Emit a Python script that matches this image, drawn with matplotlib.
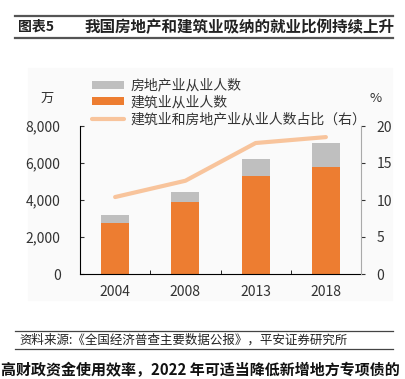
import matplotlib
matplotlib.use('Agg')
import matplotlib.pyplot as plt
import numpy as np

plt.rcParams['font.family'] = ['Noto Sans CJK SC', 'DejaVu Sans']

years = ['2004', '2008', '2013', '2018']
jianzhu = [2750, 3900, 5300, 5800]        # 建筑业从业人数, 万
fangdichan = [450, 550, 900, 1300]        # 房地产业从业人数, 万
zhanbi = [10.4, 12.6, 17.7, 18.5]         # 占比, %

GRAY = '#bfbfbf'
ORANGE = '#ed7d31'
PEACH = '#f8c49c'
TXT = '#333333'

fig = plt.figure(figsize=(4.05, 3.79), dpi=100)

# faint panel background behind the chart
fig.patches.append(plt.Rectangle((28/405, 1-300/379), (392-28)/405, (300-68)/379,
                                 transform=fig.transFigure, color='#fafafa', zorder=-5))

ax = fig.add_axes([80/405, 1-274/379, 281/405, 148/379])
ax.patch.set_alpha(0)
x = np.arange(len(years))
b1 = ax.bar(x, jianzhu, width=0.4, color=ORANGE, zorder=2, label='建筑业从业人数')
b2 = ax.bar(x, fangdichan, width=0.4, bottom=jianzhu, color=GRAY, zorder=2, label='房地产业从业人数')
ax.set_xlim(-0.5, 3.5)
ax.set_ylim(0, 8000)
ax.set_yticks([0, 2000, 4000, 6000, 8000])
ax.set_yticklabels(['{:,}'.format(v) for v in [0, 2000, 4000, 6000, 8000]])
ax.set_xticks(x)
ax.set_xticklabels(years)
ax.set_xticks([0.5, 1.5, 2.5], minor=True)
ax.tick_params(axis='x', which='major', length=0, pad=8, labelsize=10, colors=TXT)
ax.tick_params(axis='x', which='minor', length=3, direction='in', color='black')
ax.tick_params(axis='y', length=3, direction='in', labelsize=10, colors=TXT, pad=14)
for s in ['top', 'right']:
    ax.spines[s].set_visible(False)
ax.spines['left'].set_color('black')
ax.spines['bottom'].set_color('black')

ax2 = ax.twinx()
l1, = ax2.plot(x, zhanbi, color=PEACH, lw=3, solid_capstyle='round', zorder=3,
               label='建筑业和房地产业从业人数占比（右）')
ax2.set_ylim(0, 20)
ax2.set_yticks([0, 5, 10, 15, 20])
ax2.tick_params(axis='y', length=3, direction='out', labelsize=10, colors=TXT, pad=8)
for s in ['top', 'left', 'bottom']:
    ax2.spines[s].set_visible(False)
ax2.spines['right'].set_color('#aaaaaa')

fig.legend([b2, b1, l1], ['房地产业从业人数', '建筑业从业人数', '建筑业和房地产业从业人数占比（右）'],
           loc='upper left', bbox_to_anchor=(86/405, 1-73/379), frameon=False,
           fontsize=10, handlelength=2.3, handleheight=0.5, labelspacing=0.2,
           borderaxespad=0, handletextpad=0.5, labelcolor=TXT)

fig.text(47/405, 1-98/379, '万', ha='center', va='center', fontsize=9.5, color=TXT)
fig.text(376/405, 1-98/379, '%', ha='center', va='center', fontsize=9.5, color=TXT)

# title band
fig.add_artist(plt.Line2D([15/405, 393/405], [1-15.5/379, 1-15.5/379], color='#555555', lw=1.6))
fig.add_artist(plt.Line2D([15/405, 393/405], [1-38/379, 1-38/379], color='#555555', lw=1.6))
fig.text(18/405, 1-27/379, '图表5', ha='left', va='center', fontsize=10, fontweight='bold', color='#222222')
fig.text(85/405, 1-27/379, '我国房地产和建筑业吸纳的就业比例持续上升', ha='left', va='center',
         fontsize=11.2, fontweight='bold', color='#222222')

# source band
fig.add_artist(plt.Line2D([15/405, 393/405], [1-331/379, 1-331/379], color='#444444', lw=0.9))
fig.add_artist(plt.Line2D([15/405, 393/405], [1-349/379, 1-349/379], color='#444444', lw=0.9))
fig.text(19/405, 1-340/379, '资料来源:《全国经济普查主要数据公报》，平安证券研究所', ha='left', va='center',
         fontsize=9, style='italic', color='#222222')
fig.text(1/405, 1-378/379, '高财政资金使用效率，2022 年可适当降低新增地方专项债的', ha='left', va='bottom',
         fontsize=10.8, fontweight='bold', color='#111111')

fig.savefig('out.png', dpi=100)
